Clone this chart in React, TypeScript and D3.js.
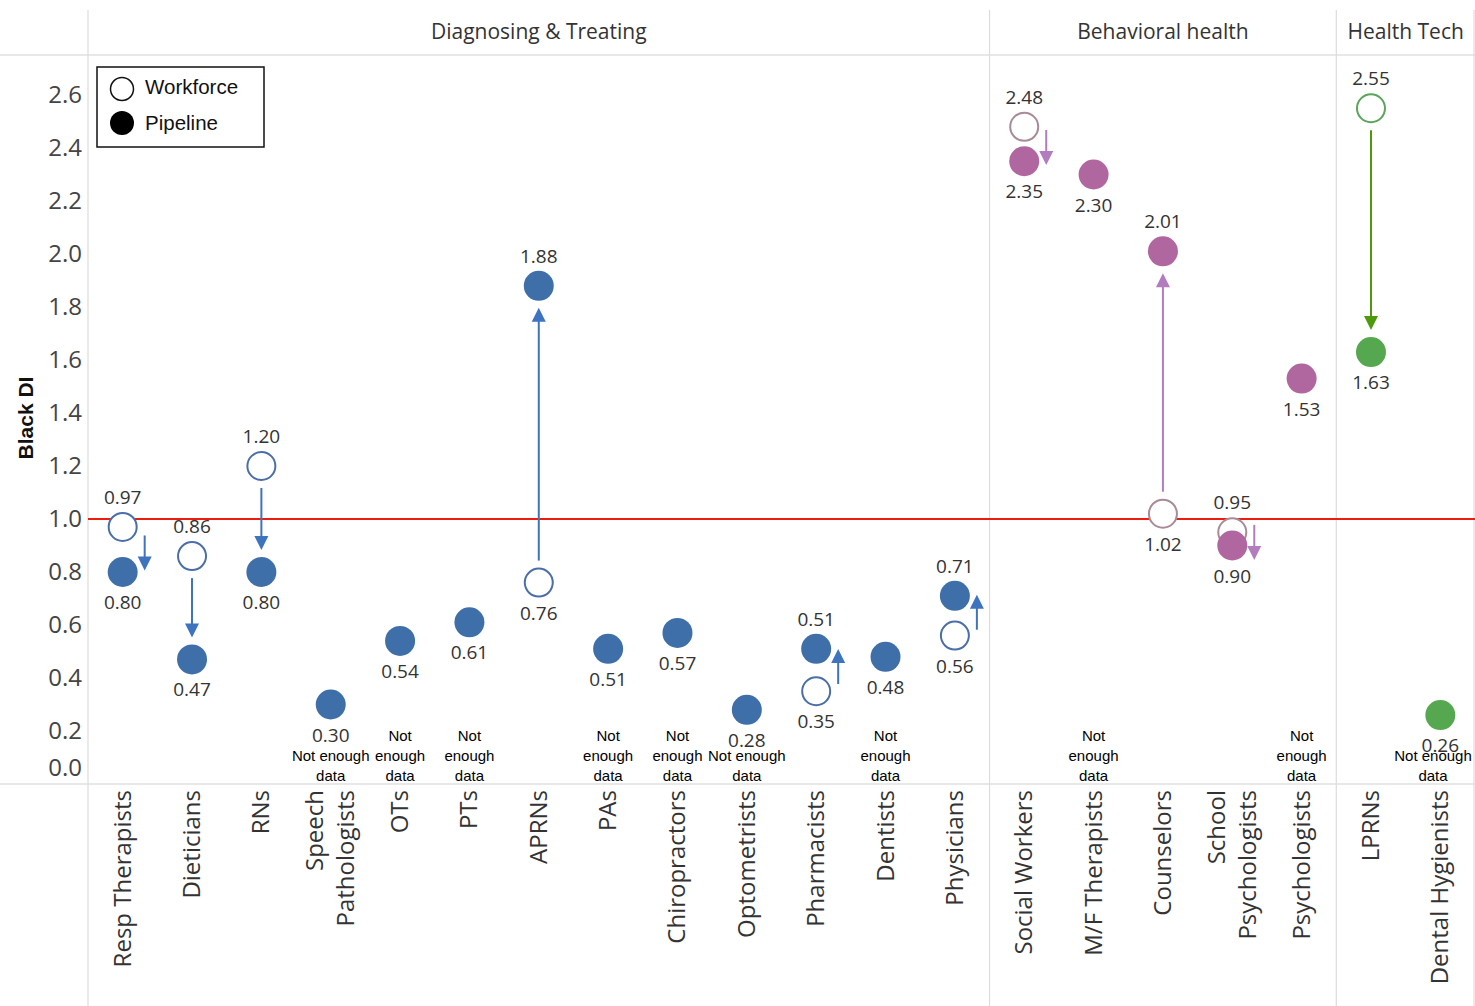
import React from "react";
import * as d3 from "d3";

const categories = [
  "Resp Therapists", "Dieticians", "RNs", "Speech\nPathologists", "OTs", "PTs", "APRNs", "PAs",
  "Chiropractors", "Optometrists", "Pharmacists", "Dentists", "Physicians",
  "Social Workers", "M/F Therapists", "Counselors", "School\nPsychologists", "Psychologists",
  "LPRNs", "Dental Hygienists",
];
const groups = ["Diagnosing & Treating", "Behavioral health", "Health Tech"];
const categoryGroup = [0,0,0,0,0,0,0,0,0,0,0,0,0, 1,1,1,1,1, 2,2];
const workforce: (number | null)[] = [0.97, 0.86, 1.20, null, null, null, 0.76, null, null, null, 0.35, null, 0.56, 2.48, null, 1.02, 0.95, null, 2.55, null];
const pipeline: number[] = [0.80, 0.47, 0.80, 0.30, 0.54, 0.61, 1.88, 0.51, 0.57, 0.28, 0.51, 0.48, 0.71, 2.35, 2.30, 2.01, 0.90, 1.53, 1.63, 0.26];
const N3 = ["Not", "enough", "data"];
const N2 = ["Not enough", "data"];
const notEnoughLines: (string[] | null)[] = [null, null, null, N2, N3, N3, null, N3, N3, N2, null, N3, null, null, N3, null, null, N3, null, N2];
const yTicks = [0, 0.2, 0.4, 0.6, 0.8, 1.0, 1.2, 1.4, 1.6, 1.8, 2.0, 2.2, 2.4, 2.6];
const refValue = 1.0;

const fillColors = ["#3f6fa8", "#b0679f", "#55a84f"];
const ringColors = ["#4a6ea8", "#a88a98", "#5aa55a"];
const arrowColors = ["#3e73c0", "#b27cbf", "#4d9a0a"];

const W = 1475, H = 1006;
const plotLeft = 88, plotRight = 1475, plotTop = 55, plotBottom = 784;

export default function App() {
  const x = d3.scaleBand<number>().domain(d3.range(categories.length)).range([plotLeft, plotRight]).padding(0);
  const y = d3.scaleLinear().domain([0, 2.751]).range([plotBottom, plotTop]);
  const cx = (i: number) => (x(i) as number) + x.bandwidth() / 2;

  const groupBounds = groups.map((g, gi) => {
    const idx = categoryGroup.map((c, i) => (c === gi ? i : -1)).filter((i) => i >= 0);
    const x0 = x(idx[0]) as number;
    const x1 = (x(idx[idx.length - 1]) as number) + x.bandwidth();
    return { g, x0, x1 };
  });

  const numFont = "'Open Sans', sans-serif";
  const arial = "'Liberation Sans', Arial, sans-serif";
  const r = 15;

  const arrows = categories.map((_, i) => {
    const w = workforce[i];
    if (w == null) return null;
    const wy = y(w), py = y(pipeline[i]);
    const dir = Math.sign(py - wy);
    const col = arrowColors[categoryGroup[i]];
    let ax: number, y1: number, y2: number;
    if (Math.abs(py - wy) > 80) {
      ax = cx(i);
      y1 = wy + dir * 22;
      y2 = py - dir * 22;
    } else {
      ax = cx(i) + 22;
      const m = (wy + py) / 2 + dir * 3;
      y1 = m - dir * 17;
      y2 = m + dir * 18;
    }
    const hl = 14, hw = 7;
    const head = `M${ax - hw},${y2 - dir * hl} L${ax + hw},${y2 - dir * hl} L${ax},${y2} Z`;
    return (
      <g key={"a" + i}>
        <line x1={ax} x2={ax} y1={y1} y2={y2 - dir * hl + dir * 1} stroke={col} strokeWidth={2} />
        <path d={head} fill={col} />
      </g>
    );
  });

  return (
    <svg width={W} height={H} style={{ position: "absolute", left: 0, top: 0, display: "block", background: "#fff" }}>
      <line x1={0} x2={W} y1={plotTop} y2={plotTop} stroke="#e0e0e0" strokeWidth={1.5} />
      <line x1={0} x2={W} y1={plotBottom} y2={plotBottom} stroke="#e0e0e0" strokeWidth={1.5} />
      <line x1={plotLeft} x2={plotLeft} y1={10} y2={H} stroke="#dcdcdc" strokeWidth={1.2} />
      {groupBounds.slice(1).map((b) => (
        <line key={b.g} x1={b.x0} x2={b.x0} y1={10} y2={H} stroke="#dcdcdc" strokeWidth={1.2} />
      ))}
      <line x1={plotRight - 1} x2={plotRight - 1} y1={10} y2={H} stroke="#dcdcdc" strokeWidth={1.2} />

      {groupBounds.map((b) => (
        <text key={b.g} x={(b.x0 + b.x1) / 2} y={39} textAnchor="middle" fontFamily={numFont} fontSize={21} fill="#333">
          {b.g}
        </text>
      ))}

      {yTicks.map((t) => (
        <text key={t} x={82} y={Math.min(y(t), 768) + 8} textAnchor="end" fontFamily={numFont} fontSize={24} fill="#444">
          {t.toFixed(1)}
        </text>
      ))}
      <text transform={`translate(33,${418}) rotate(-90)`} textAnchor="middle" fontFamily={arial} fontWeight="bold" fontSize={21} fill="#111">
        Black DI
      </text>

      <line x1={plotLeft} x2={plotRight} y1={y(refValue)} y2={y(refValue)} stroke="#ee1c0e" strokeWidth={2} />

      {categories.map((c, i) => {
        const lines = c.split("\n");
        return (
          <g key={c}>
            {lines.map((ln, k) => {
              const lx = cx(i) + 8 + (k - (lines.length - 1) / 2) * 31;
              return (
                <text key={k} transform={`translate(${lx},${790}) rotate(-90)`} textAnchor="end" fontFamily={numFont} fontSize={24} fill="#333">
                  {ln}
                </text>
              );
            })}
          </g>
        );
      })}

      {arrows}

      {categories.map((_, i) => {
        const gi = categoryGroup[i];
        const w = workforce[i];
        return (
          <g key={"p" + i}>
            {w != null && (
              <circle cx={cx(i)} cy={y(w)} r={r - 1} fill="#fff" stroke={ringColors[gi]} strokeWidth={2} />
            )}
            <circle cx={cx(i)} cy={y(pipeline[i])} r={r} fill={fillColors[gi]} />
          </g>
        );
      })}

      {categories.map((_, i) => {
        const w = workforce[i];
        const p = pipeline[i];
        const items: { v: number; above: boolean }[] = [];
        if (w == null) items.push({ v: p, above: false });
        else {
          items.push({ v: w, above: w > p });
          items.push({ v: p, above: p > w });
        }
        return items.map((it, k) => (
          <text key={"l" + i + k} x={cx(i)} y={it.above ? y(it.v) - 23 : y(it.v) + 37} textAnchor="middle" fontFamily={numFont} fontSize={19} fill="#333">
            {it.v.toFixed(2)}
          </text>
        ));
      })}

      {notEnoughLines.map((lines, i) => {
        if (!lines) return null;
        const halfW = d3.max(lines, (l) => l.length) * 4.1;
        const nx = Math.min(cx(i), plotRight - 1 - halfW);
        return (
          <g key={"n" + i}>
            {lines.map((ln, k) => (
              <text key={k} x={nx} y={781 - (lines.length - 1 - k) * 20} textAnchor="middle" fontFamily={arial} fontSize={15} fill="#000">
                {ln}
              </text>
            ))}
          </g>
        );
      })}

      <rect x={97} y={67} width={167} height={80} fill="#fff" stroke="#111" strokeWidth={1.5} />
      <circle cx={122} cy={89} r={11.5} fill="#fff" stroke="#111" strokeWidth={1.5} />
      <circle cx={122} cy={123} r={12} fill="#000" />
      <text x={145} y={94} fontFamily={arial} fontSize={20.5} fill="#111">Workforce</text>
      <text x={145} y={130} fontFamily={arial} fontSize={20.5} fill="#111">Pipeline</text>
    </svg>
  );
}
